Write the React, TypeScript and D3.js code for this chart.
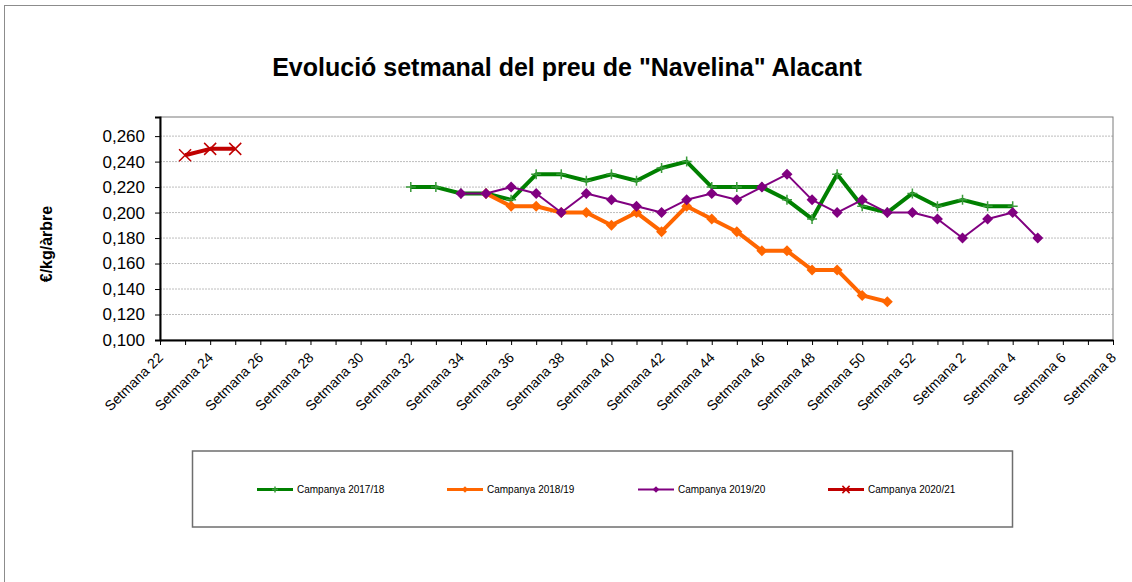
import * as d3 from "d3";
import { useEffect, useRef } from "react";

// setmanes 22..52 i 1..8
const weeks = [
  ...d3.range(22, 53),
  ...d3.range(1, 9),
];
const weekLabels = weeks.map((w) => `Setmana ${w}`);

// preus per setmana (null = sense dada)
const camp1718 = [
  null, null, null, null, null, null, null, null, null, null,
  0.22, 0.22, 0.215, 0.215, 0.21, 0.23, 0.23, 0.225, 0.23, 0.225,
  0.235, 0.24, 0.22, 0.22, 0.22, 0.21, 0.195, 0.23, 0.205, 0.2,
  0.215, 0.205, 0.21, 0.205, 0.205,
];
const camp1819 = [
  null, null, null, null, null, null, null, null, null, null,
  null, null, null, 0.215, 0.205, 0.205, 0.2, 0.2, 0.19, 0.2,
  0.185, 0.205, 0.195, 0.185, 0.17, 0.17, 0.155, 0.155, 0.135, 0.13,
];
const camp1920 = [
  null, null, null, null, null, null, null, null, null, null,
  null, null, 0.215, 0.215, 0.22, 0.215, 0.2, 0.215, 0.21, 0.205,
  0.2, 0.21, 0.215, 0.21, 0.22, 0.23, 0.21, 0.2, 0.21, 0.2,
  0.2, 0.195, 0.18, 0.195, 0.2, 0.18,
];
const camp2021 = [null, 0.245, 0.25, 0.25];

const seriesNames = ["Campanya 2017/18", "Campanya 2018/19", "Campanya 2019/20", "Campanya 2020/21"];
const yTicks = [0.1, 0.12, 0.14, 0.16, 0.18, 0.2, 0.22, 0.24, 0.26];

const App = () => {
  const ref = useRef(null);

  useEffect(() => {
    const svg = d3.select(ref.current);
    svg.selectAll("*").remove();

    const width = 1132;
    const height = 582;
    const margin = { top: 117, right: 19, bottom: 242, left: 160 };
    const font = "Liberation Sans, Arial, sans-serif";

    svg.attr("width", width).attr("height", height);

    // marc exterior
    svg.append("rect")
      .attr("x", 4.5).attr("y", 5.5)
      .attr("width", width + 20).attr("height", height + 20)
      .attr("fill", "white").attr("stroke", "#8c8c8c").attr("stroke-width", 1);

    const x = d3.scalePoint()
      .domain(weekLabels)
      .range([margin.left, width - margin.right]);
    const y = d3.scaleLinear()
      .domain([0.1, 0.275])
      .range([height - margin.bottom, margin.top]);

    // títol
    svg.append("text")
      .attr("x", 567).attr("y", 76)
      .attr("text-anchor", "middle")
      .style("font-family", font).style("font-size", "25px").style("font-weight", "bold")
      .text('Evolució setmanal del preu de "Navelina" Alacant');

    // graella
    svg.append("g")
      .selectAll("line")
      .data(yTicks.slice(1))
      .enter()
      .append("line")
      .attr("x1", margin.left).attr("x2", width - margin.right)
      .attr("y1", (d) => y(d)).attr("y2", (d) => y(d))
      .attr("stroke", "#bdbdbd").attr("stroke-dasharray", "2,1");

    // vora de l'àrea del gràfic
    svg.append("rect")
      .attr("x", margin.left).attr("y", margin.top)
      .attr("width", width - margin.right - margin.left)
      .attr("height", height - margin.bottom - margin.top)
      .attr("fill", "none").attr("stroke", "#7a7a7a").attr("stroke-width", 1);

    // eix Y
    const yAxis = d3.axisLeft(y)
      .tickValues(yTicks)
      .tickSize(5)
      .tickFormat((d) => d3.format(".3f")(d).replace(".", ","));
    const gy = svg.append("g")
      .attr("transform", `translate(${margin.left}, 0)`)
      .call(yAxis);
    gy.select(".domain").attr("stroke", "#000").attr("stroke-width", 2);
    gy.selectAll("text")
      .attr("x", -15)
      .style("font-family", font).style("font-size", "17px").attr("fill", "#000");

    // eix X
    const xAxis = d3.axisBottom(x)
      .tickSize(5)
      .tickSizeOuter(0)
      .tickFormat((d, i) => (i % 2 === 0 ? d : ""));
    const gx = svg.append("g")
      .attr("transform", `translate(0, ${height - margin.bottom})`)
      .call(xAxis);
    gx.select(".domain").attr("stroke", "#000").attr("stroke-width", 2);
    gx.selectAll("text")
      .style("text-anchor", "end")
      .attr("x", 0).attr("y", 0)
      .attr("dy", "0.35em")
      .attr("transform", "translate(0, 15) rotate(-45)")
      .style("font-family", font).style("font-size", "14px").attr("fill", "#000");

    const line = d3.line()
      .defined((d) => d != null)
      .x((d, i) => x(weekLabels[i]))
      .y((d) => y(d));

    const drawMarker = (g, kind, color, cx, cy, big) => {
      const s = big ? 1 : 0.6;
      if (kind === "plus") {
        g.append("path")
          .attr("d", `M${cx - 5 * s},${cy}H${cx + 5 * s}M${cx},${cy - 5 * s}V${cy + 5 * s}`)
          .attr("stroke", color).attr("stroke-width", 1.5).attr("fill", "none");
      } else if (kind === "diamond") {
        const r = 5.5 * s;
        g.append("path")
          .attr("d", `M${cx},${cy - r}L${cx + r},${cy}L${cx},${cy + r}L${cx - r},${cy}Z`)
          .attr("fill", color);
      } else {
        const r = 6 * s;
        g.append("path")
          .attr("d", `M${cx - r},${cy - r}L${cx + r},${cy + r}M${cx - r},${cy + r}L${cx + r},${cy - r}`)
          .attr("stroke", color).attr("stroke-width", 1.5).attr("fill", "none");
      }
    };

    const series = [
      { data: camp1718, color: "#008000", marker: "#3a9a3a", width: 4, kind: "plus" },
      { data: camp1819, color: "#ff6600", marker: "#ff6600", width: 4, kind: "diamond" },
      { data: camp1920, color: "#800080", marker: "#800080", width: 2, kind: "diamond" },
      { data: camp2021, color: "#c00000", marker: "#c00000", width: 4, kind: "x" },
    ];

    series.forEach((s) => {
      const g = svg.append("g");
      g.append("path")
        .datum(s.data)
        .attr("d", line)
        .attr("fill", "none")
        .attr("stroke", s.color)
        .attr("stroke-width", s.width)
        .attr("stroke-linejoin", "round");
      s.data.forEach((v, i) => {
        if (v == null) return;
        drawMarker(g, s.kind, s.marker, x(weekLabels[i]), y(v), true);
      });
    });

    // llegenda
    const lg = svg.append("g");
    lg.append("rect")
      .attr("x", 192.5).attr("y", 451)
      .attr("width", 820).attr("height", 76)
      .attr("fill", "white").attr("stroke", "#6e6e6e").attr("stroke-width", 1.5);
    const legendX = [257, 447, 638, 828];
    series.forEach((s, i) => {
      const lx = legendX[i];
      const ly = 489.5;
      lg.append("line")
        .attr("x1", lx).attr("x2", lx + 36)
        .attr("y1", ly).attr("y2", ly)
        .attr("stroke", s.color).attr("stroke-width", s.width === 2 ? 2 : 3);
      drawMarker(lg, s.kind, s.marker, lx + 18, ly, false);
      lg.append("text")
        .attr("x", lx + 40).attr("y", ly + 3.5)
        .style("font-family", font).style("font-size", "10px")
        .text(seriesNames[i]);
    });

    // títol de l'eix Y
    svg.append("text")
      .attr("transform", "translate(52, 244) rotate(-90)")
      .attr("text-anchor", "middle")
      .style("font-family", font).style("font-size", "16px").style("font-weight", "bold")
      .text("€/kg/àrbre");
  }, []);

  return (
    <svg ref={ref} style={{ position: "absolute", left: 0, top: 0, display: "block" }}></svg>
  );
};

export default App;
